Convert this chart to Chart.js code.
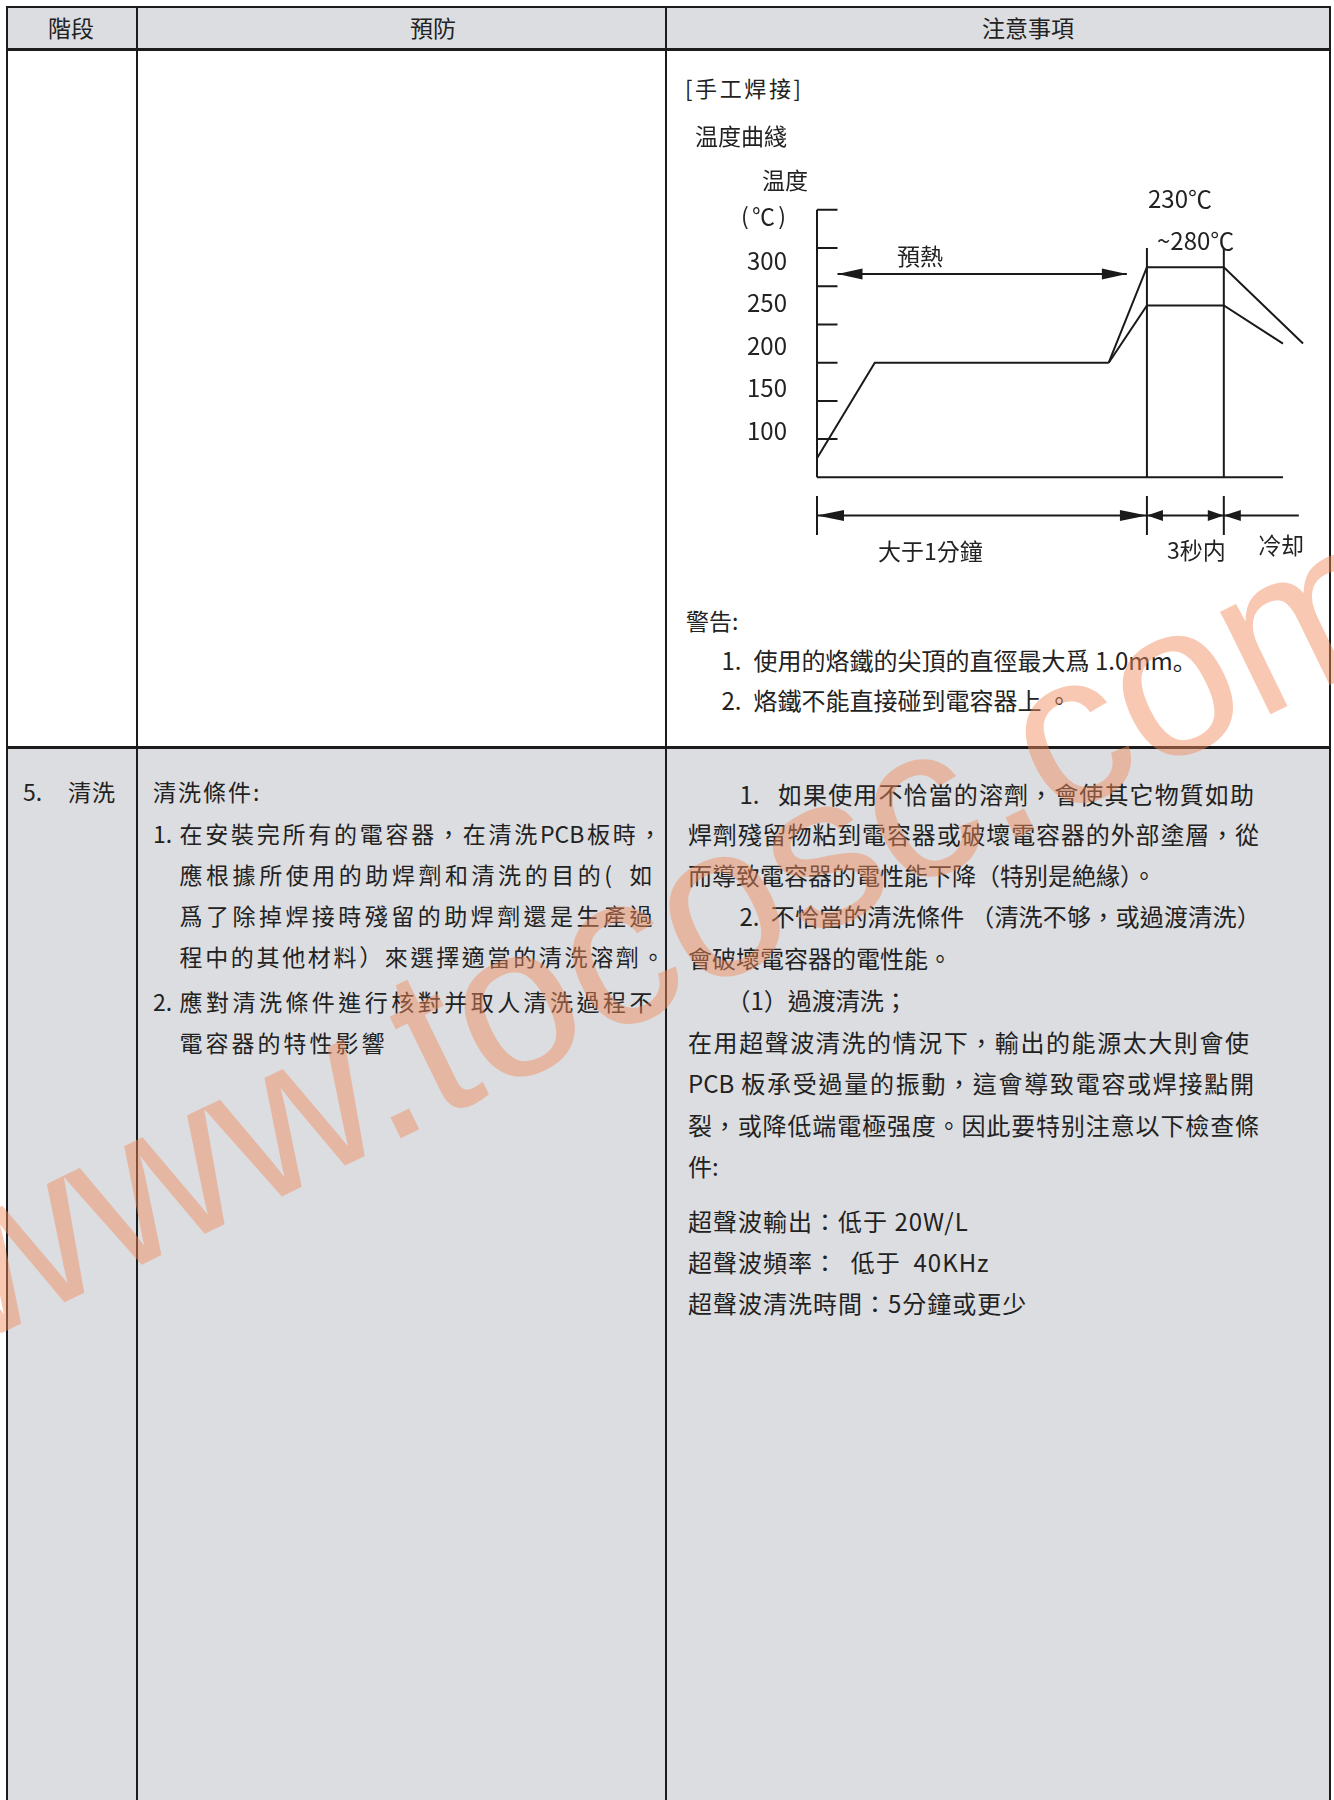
<!DOCTYPE html>
<html lang="zh-Hant">
<head>
<meta charset="utf-8">
<title>手工焊接 温度曲綫</title>
<script src="https://cdn.jsdelivr.net/npm/chart.js@4.4.0/dist/chart.umd.min.js"></script>
<style>
  html, body { margin: 0; padding: 0; background: #fff; }
  body {
    width: 1334px; height: 1800px; position: relative; overflow: hidden;
    font-family: "Noto Sans CJK KR", "Noto Sans CJK JP", "Noto Sans CJK SC", sans-serif;
    color: #222;
  }
  .bg { position: absolute; background: #dcdde0; }
  .ln { position: absolute; background: #1c1c1c; }
  .t { position: absolute; white-space: nowrap; line-height: 1; }
  .j { text-align: justify; text-align-last: justify; }
  #chartBox { position: absolute; left: 680px; top: 190px; width: 640px; height: 380px; }
  #wm {
    position: absolute; left: -27px; top: 1164px; z-index: 10; pointer-events: none;
    font: 216px "Liberation Sans", Arial, sans-serif; line-height: 216px;
    color: rgba(240, 138, 92, 0.47); white-space: nowrap;
    transform-origin: 0 183px; transform: rotate(-26deg);
  }
</style>
</head>
<body>
<div class="bg" style="left:7px;top:7px;width:1323px;height:42px"></div>
<div class="bg" style="left:7px;top:748px;width:1323px;height:1060px"></div>

<div class="ln" style="left:6px;top:6px;width:1325px;height:2px"></div>
<div class="ln" style="left:6px;top:48px;width:1325px;height:3px"></div>
<div class="ln" style="left:6px;top:746px;width:1325px;height:3px"></div>
<div class="ln" style="left:6px;top:6px;width:2px;height:1800px"></div>
<div class="ln" style="left:136px;top:6px;width:2px;height:1800px"></div>
<div class="ln" style="left:665px;top:6px;width:2px;height:1800px"></div>
<div class="ln" style="left:1329px;top:6px;width:2px;height:1800px"></div>

<div id="chartBox"><canvas id="myChart"></canvas></div>
<div id="texts"></div>
<div id="wm">www.tocosc.com</div>

<script>
// temperature axis (℃) and its labelled values
const tempTicks = [50, 100, 150, 200, 250, 300, 350];
const tickLabels = ['100', '150', '200', '250', '300'];

// soldering profile: time (relative units) / temperature (℃)
const rampTime = [0, 12.4, 62.6];
const rampTemp = [25, 150, 150];
const highTime = [62.6, 70.8, 87.3, 104.3];
const highTemp = [150, 275, 275, 175];
const lowTime = [62.6, 70.8, 87.3, 100];
const lowTemp = [150, 225, 225, 175];

const phaseEdges = [0, 70.8, 87.3];      // start / iron on / iron off
const markerTop = 300;
const axisEnd = { time: 100, temp: 350 };
const tickLen = 4.4;
const preheatSpan = [4.4, 66.5];
const preheatLevel = 266;
const phaseSpans = [[0, 70.8], [70.8, 87.3], [87.3, 103.4]];
const phaseLevel = -50;
const phaseBar = [-24.5, -75.5];

const ink = '#1a1a1a';
const fontFamily = '"Noto Sans CJK KR", "Noto Sans CJK JP", sans-serif';

const pts = (xs, ys) => xs.map((x, i) => ({ x: x, y: ys[i] }));
const segs = list => list.flatMap(s => [s[0], s[1], { x: s[1].x, y: null }]);

function lineSet(data) {
  return {
    data: data, showLine: true, borderColor: ink, borderWidth: 2,
    pointRadius: 0, spanGaps: false, clip: false, borderCapStyle: 'butt'
  };
}

const axisSegs = segs([
  [{ x: 0, y: 0 }, { x: axisEnd.time, y: 0 }],
  [{ x: 0, y: 0 }, { x: 0, y: axisEnd.temp }]
]);
const tickSegs = segs(tempTicks.map(t => [{ x: 0, y: t }, { x: tickLen, y: t }]));
const markerSegs = segs(phaseEdges.slice(1).map(e => [{ x: e, y: 0 }, { x: e, y: markerTop }]));
const barSegs = segs(phaseEdges.map(e => [{ x: e, y: phaseBar[0] }, { x: e, y: phaseBar[1] }]));

const arrows = [
  { from: preheatSpan[0], to: preheatSpan[1], temp: preheatLevel, start: true, end: true, len: 25 },
  { from: phaseSpans[0][0], to: phaseSpans[0][1], temp: phaseLevel, start: true, end: true, len: 27 },
  { from: phaseSpans[1][0], to: phaseSpans[1][1], temp: phaseLevel, start: true, end: true, len: 16 },
  { from: phaseSpans[2][0], to: phaseSpans[2][1], temp: phaseLevel, start: true, end: false, len: 17 }
];

function head(ctx, tipX, py, dir, len) {
  ctx.beginPath();
  ctx.moveTo(tipX, py);
  ctx.lineTo(tipX - dir * len, py - 5.5);
  ctx.lineTo(tipX - dir * len, py + 5.5);
  ctx.closePath();
  ctx.fill();
}

const arrowPlugin = {
  id: 'arrows',
  afterDatasetsDraw(chart) {
    const ctx = chart.ctx;
    const x = chart.scales.x, y = chart.scales.y;
    ctx.save();
    ctx.strokeStyle = ink;
    ctx.fillStyle = ink;
    ctx.lineWidth = 2;
    arrows.forEach(a => {
      const x1 = x.getPixelForValue(a.from), x2 = x.getPixelForValue(a.to);
      const py = y.getPixelForValue(a.temp);
      ctx.beginPath();
      ctx.moveTo(x1, py);
      ctx.lineTo(x2, py);
      ctx.stroke();
      if (a.start) head(ctx, x1, py, -1, a.len);
      if (a.end) head(ctx, x2, py, 1, a.len);
    });
    ctx.restore();
  }
};

function createChart() {
  const ctx = document.getElementById('myChart').getContext('2d');
  new Chart(ctx, {
    type: 'scatter',
    data: {
      datasets: [
        lineSet(axisSegs),
        lineSet(tickSegs),
        lineSet(pts(rampTime, rampTemp)),
        lineSet(pts(highTime, highTemp)),
        lineSet(pts(lowTime, lowTemp)),
        lineSet(markerSegs),
        lineSet(barSegs)
      ]
    },
    options: {
      responsive: true,
      maintainAspectRatio: false,
      animation: false,
      events: [],
      layout: { padding: 0 },
      plugins: { legend: { display: false }, tooltip: { enabled: false } },
      scales: {
        x: { type: 'linear', display: false, min: 0, max: 107.94 },
        y: { type: 'linear', display: false, min: -121.3, max: 376 },
        yl: {
          type: 'linear', position: 'left', min: -64.1, max: 382.9,
          grid: { display: false, drawTicks: false },
          border: { display: false },
          ticks: { padding: 30, color: '#222', font: { family: fontFamily, size: 24 } },
          afterBuildTicks: s => { s.ticks = tickLabels.map(v => ({ value: Number(v) })); },
          afterFit: s => { s.width = 137; s.paddingTop = 0; s.paddingBottom = 0; }
        }
      }
    },
    plugins: [arrowPlugin]
  });
}

// page text: [text, left, centre y, size, justify width, letter spacing]
const NB = '\u00a0';
const texts = [
  ['階段', 48, 28.5, 23], ['預防', 410, 28.5, 23], ['注意事項', 982, 28.5, 23],

  ['[手工焊接]', 685, 88, 22, 116],
  ['温度曲綫', 695, 136.5, 23],
  ['温度', 762, 181, 23],
  ['(℃)', 741, 216.5, 23, 45],
  ['預熱', 897, 257, 23],
  ['230℃', 1148, 199.5, 24],
  ['~280℃', 1157, 241, 24],
  ['大于1分鐘', 878, 552, 23],
  ['3秒内', 1167, 551, 23],
  ['冷却', 1258, 546, 23],
  ['警告:', 686, 621.5, 23],
  ['1.', 721.5, 661, 24], ['使用的烙鐵的尖頂的直徑最大爲 1.0mm。', 753.6, 661, 24],
  ['2.', 721.5, 701.5, 24], ['烙鐵不能直接碰到電容器上 。', 753.6, 701.5, 24],

  ['5.', 23, 793, 23], ['清洗', 68, 793, 23, 0, 1],
  ['清洗條件:', 153, 793, 23, 0, 2],
  ['1.', 153, 835, 23], ['在安裝完所有的電容器，在清洗PCB板時，', 179.5, 835, 23, 482],
  ['應根據所使用的助焊劑和清洗的目的(' + NB + NB + '如', 179.5, 876, 23, 473],
  ['爲了除掉焊接時殘留的助焊劑還是生產過', 179.5, 917, 23, 473],
  ['程中的其他材料）來選擇適當的清洗溶劑。', 179.5, 957.5, 23, 485],
  ['2.', 153, 1003, 23], ['應對清洗條件進行核對并取人清洗過程不', 179.5, 1003, 23, 473],
  ['電容器的特性影響', 179.5, 1044, 23, 0, 3],

  ['1.', 739.5, 795, 24], ['如果使用不恰當的溶劑，會使其它物質如助', 778, 795, 24, 476],
  ['焊劑殘留物粘到電容器或破壞電容器的外部塗層，從', 688, 835, 24, 571],
  ['而導致電容器的電性能下降（特别是絶緣）。', 688, 876, 24],
  ['2.', 739.5, 917.5, 24], ['不恰當的清洗條件 （清洗不够，或過渡清洗）', 770.7, 917.5, 24, 490],
  ['會破壞電容器的電性能。', 688, 959, 24],
  ['（1）過渡清洗；', 726.5, 1001, 24],
  ['在用超聲波清洗的情況下，輸出的能源太大則會使', 688, 1043, 24, 561],
  ['PCB 板承受過量的振動，這會導致電容或焊接點開', 688, 1084, 24, 566],
  ['裂，或降低端電極强度。因此要特别注意以下檢查條', 688, 1126, 24, 571],
  ['件:', 688, 1167.5, 24],
  ['超聲波輸出：低于 20W/L', 688, 1222, 24, 0, 1],
  ['超聲波頻率：' + NB + NB + '低于' + NB + NB + '40KHz', 688, 1263, 24, 0, 1],
  ['超聲波清洗時間：5分鐘或更少', 688, 1304, 24, 0, 1]
];

function placeTexts() {
  const box = document.getElementById('texts');
  texts.forEach(item => {
    const [str, left, cy, size, width, ls] = item;
    const d = document.createElement('div');
    d.className = 't' + (width ? ' j' : '');
    d.textContent = str;
    d.style.left = left + 'px';
    d.style.top = (cy - size * 0.56) + 'px';
    d.style.fontSize = size + 'px';
    if (width) d.style.width = width + 'px';
    if (ls) d.style.letterSpacing = ls + 'px';
    box.appendChild(d);
  });
}

placeTexts();
window.onload = createChart;
</script>
</body>
</html>
